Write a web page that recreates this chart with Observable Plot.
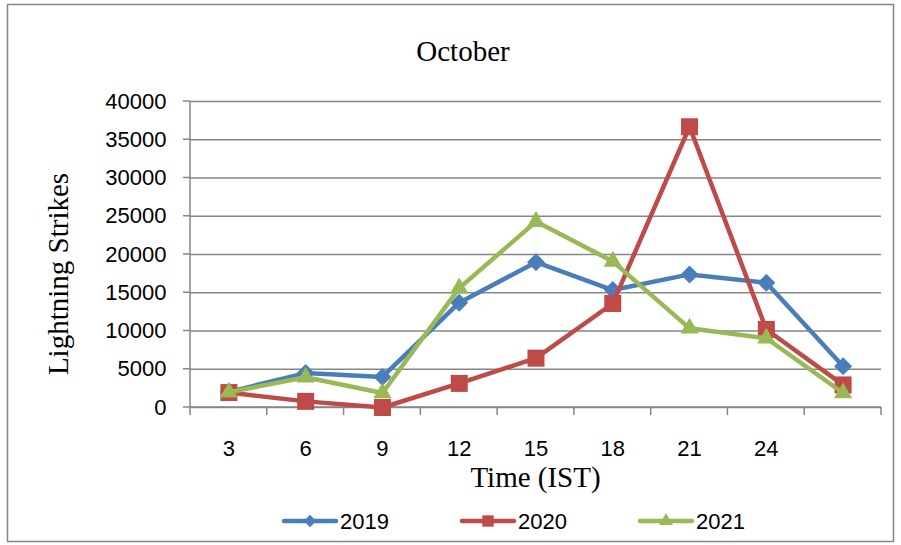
<!DOCTYPE html>
<html>
<head>
<meta charset="utf-8">
<script src="https://cdn.jsdelivr.net/npm/d3@7"></script>
<script src="https://cdn.jsdelivr.net/npm/@observablehq/plot@0.6"></script>
<style>
  html, body { margin: 0; padding: 0; background: #fff; }
</style>
</head>
<body>
<div id="chart"></div>
<script>
// ---- data ----
const hours = [3, 6, 9, 12, 15, 18, 21, 24, 27];
const xLabels = ["3", "6", "9", "12", "15", "18", "21", "24", ""];
const years = ["2019", "2020", "2021"];
const strikes2019 = [2050, 4500, 4000, 13700, 19000, 15350, 17400, 16300, 5400];
const strikes2020 = [1950, 800, 0, 3150, 6450, 13600, 36700, 10200, 2950];
const strikes2021 = [2000, 3950, 1900, 15600, 24300, 19100, 10350, 9050, 1900];
const yTicks = [0, 5000, 10000, 15000, 20000, 25000, 30000, 35000, 40000];
const titleText = "October";
const xTitle = "Time (IST)";
const yTitle = "Lightning Strikes";

// ---- styling ----
const seriesValues = [strikes2019, strikes2020, strikes2021];
const colors = ["#4A7EBB", "#BE4B48", "#98B954"];
const symbols = ["diamond2", "square", "triangle"];
const radii = [8.1, 9.6, 6.8];
const gray = "#868686";

const rows = years.flatMap((yr, s) =>
  hours.map((h, i) => ({year: yr, hour: h, value: seriesValues[s][i]})));

const marks = [Plot.ruleY(yTicks, {stroke: gray, strokeWidth: 1.5})];
years.forEach((yr, s) => {
  const d = rows.filter(r => r.year === yr);
  marks.push(Plot.line(d, {x: "hour", y: "value", stroke: colors[s], strokeWidth: 4.5,
    strokeLinejoin: "round", strokeLinecap: "round"}));
  marks.push(Plot.dot(d, {x: "hour", y: "value", symbol: symbols[s], r: radii[s],
    fill: colors[s], stroke: "none"}));
});

const plot = Plot.plot({
  width: 901,
  height: 545,
  marginTop: 101,
  marginBottom: 138,
  marginLeft: 190,
  marginRight: 20,
  style: {fontFamily: "'Liberation Sans', Arial, sans-serif", fontSize: "22px",
    color: "#000", background: "#fff", overflow: "visible"},
  x: {type: "point", domain: hours, padding: 0.5, round: false, label: null,
    tickSize: 0, tickPadding: 33, tickFormat: d => xLabels[hours.indexOf(d)]},
  y: {domain: [0, 40000], ticks: yTicks, tickSize: 0, tickPadding: 24, label: null,
    tickFormat: d3.format("d")},
  marks
});

document.getElementById("chart").append(plot);

// ---- axes lines, ticks, titles, legend, border ----
const svg = d3.select(plot);
const xs = plot.scale("x"), ys = plot.scale("y");
const xPos = hours.map(h => xs.apply(h));
const step = xPos[1] - xPos[0];
const left = xPos[0] - step / 2, right = xPos[xPos.length - 1] + step / 2;
const y0 = ys.apply(0), yTop = ys.apply(40000);

const ax = svg.append("g").attr("stroke", gray).attr("stroke-width", 1.5);
ax.append("line").attr("x1", left).attr("x2", left).attr("y1", yTop).attr("y2", y0);
yTicks.forEach(t => ax.append("line").attr("x1", left - 7).attr("x2", left)
  .attr("y1", ys.apply(t)).attr("y2", ys.apply(t)));
ax.append("line").attr("x1", left).attr("x2", right).attr("y1", y0).attr("y2", y0);
d3.range(hours.length + 1).forEach(i => ax.append("line")
  .attr("x1", left + i * step).attr("x2", left + i * step).attr("y1", y0).attr("y2", y0 + 8));
// put axis below data marks
plot.insertBefore(ax.node(), plot.querySelector("g"));

svg.append("rect").attr("x", 7.5).attr("y", 4.5).attr("width", 886).attr("height", 537)
  .attr("fill", "none").attr("stroke", gray).attr("stroke-width", 1.5);

const serif = "'Liberation Serif', 'Times New Roman', serif";
svg.append("text").attr("x", 463).attr("y", 61).attr("text-anchor", "middle")
  .attr("font-family", serif).attr("font-size", 29).attr("fill", "#000").text(titleText);
svg.append("text").attr("x", (left + right) / 2).attr("y", 487).attr("text-anchor", "middle")
  .attr("font-family", serif).attr("font-size", 29).attr("fill", "#000").text(xTitle);
svg.append("text").attr("transform", `translate(68,${(yTop + y0) / 2 + 20}) rotate(-90)`)
  .attr("text-anchor", "middle")
  .attr("font-family", serif).attr("font-size", 29).attr("fill", "#000").text(yTitle);

const legendSizes = [100, 130, 85];
const d3Symbols = [d3.symbolDiamond2, d3.symbolSquare, d3.symbolTriangle];
years.forEach((yr, s) => {
  const cx = 310 + 178 * s, cy = 521;
  const g = svg.append("g");
  g.append("line").attr("x1", cx - 26).attr("x2", cx + 26).attr("y1", cy).attr("y2", cy)
    .attr("stroke", colors[s]).attr("stroke-width", 4.5).attr("stroke-linecap", "round");
  g.append("path").attr("transform", `translate(${cx},${cy})`)
    .attr("d", d3.symbol(d3Symbols[s], legendSizes[s])()).attr("fill", colors[s]);
  g.append("text").attr("x", cx + 30).attr("y", cy + 8).attr("font-size", 22)
    .attr("text-anchor", "start").attr("fill", "#000").text(yr);
});
</script>
</body>
</html>
